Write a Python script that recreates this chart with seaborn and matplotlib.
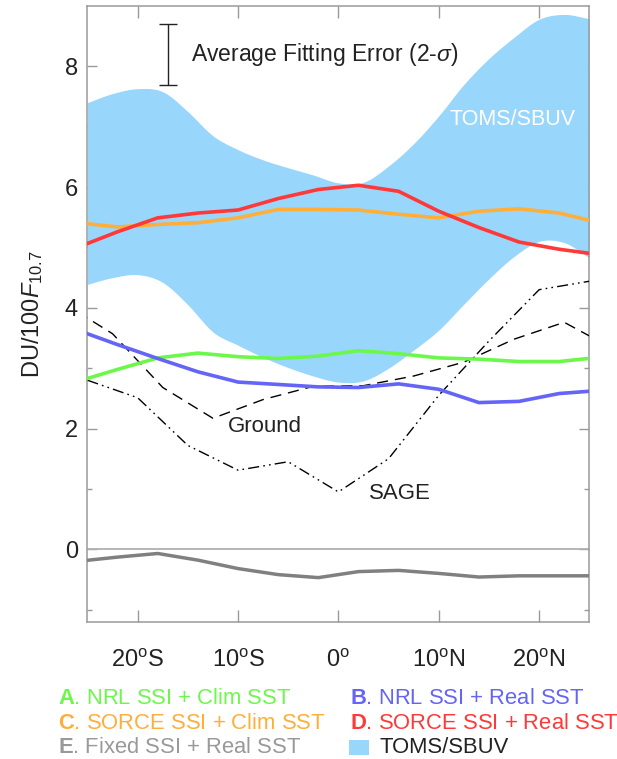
import matplotlib
matplotlib.use("Agg")
import matplotlib.pyplot as plt
import numpy as np
import pandas as pd
import seaborn as sns
from matplotlib.patches import Rectangle

# ---- data -------------------------------------------------------------
# model zonal means on the 4-degree latitude grid
model_lat = [-26, -22, -18, -14, -10, -6, -2, 2, 6, 10, 14, 18, 22, 26]
nrl_clim = [2.78, 2.98, 3.17, 3.25, 3.19, 3.16, 3.20, 3.29, 3.24, 3.17, 3.15, 3.11, 3.11, 3.18]
nrl_real = [3.63, 3.39, 3.16, 2.94, 2.77, 2.73, 2.69, 2.68, 2.74, 2.65, 2.43, 2.45, 2.58, 2.63]
sorce_clim = [5.41, 5.34, 5.38, 5.41, 5.49, 5.63, 5.63, 5.62, 5.55, 5.49, 5.60, 5.64, 5.57, 5.41]
sorce_real = [5.00, 5.26, 5.49, 5.57, 5.62, 5.81, 5.96, 6.03, 5.93, 5.60, 5.33, 5.09, 4.97, 4.88]
fixed_real = [-0.20, -0.13, -0.07, -0.18, -0.32, -0.42, -0.47, -0.37, -0.35, -0.40, -0.46, -0.44, -0.44, -0.44]

# ground-based network, 5-degree bins
ground_lat = [-27.5, -22.5, -17.5, -12.5, -7.5, -2.5, 2.5, 7.5, 12.5, 17.5, 22.5, 27.5]
ground_val = [4.09, 3.57, 2.68, 2.17, 2.48, 2.70, 2.71, 2.87, 3.10, 3.48, 3.76, 3.31]

# SAGE, 5-degree bins
sage_lat = [-25, -20, -15, -10, -5, 0, 5, 10, 15, 20, 25]
sage_val = [2.80, 2.51, 1.72, 1.31, 1.45, 0.95, 1.50, 2.55, 3.45, 4.30, 4.44]

# TOMS/SBUV range
toms_lat = [-25, -22.5, -20, -17.5, -15, -12.5, -10, -7.5, -5, -2.5, 0,
            2.5, 5, 7.5, 10, 12.5, 15, 17.5, 20, 22.5, 25]
toms_hi = [7.40, 7.55, 7.63, 7.58, 7.25, 6.85, 6.62, 6.45, 6.32, 6.20, 6.07,
           6.08, 6.35, 6.72, 7.18, 7.70, 8.13, 8.48, 8.78, 8.86, 8.79]
toms_lo = [4.39, 4.50, 4.55, 4.42, 4.05, 3.60, 3.38, 3.18, 3.01, 2.87, 2.77,
           2.79, 3.00, 3.30, 3.63, 4.06, 4.48, 4.85, 5.10, 5.08, 4.83]

# average 2-sigma fitting error
err_center = 8.2
err_half = 0.51

xtick_pos = [-20, -10, 0, 10, 20]
xtick_labels = [r'20$^{\rm o}$S', r'10$^{\rm o}$S', r'0$^{\rm o}$',
                r'10$^{\rm o}$N', r'20$^{\rm o}$N']

legend_rows = [
    (r'$\mathbf{A}$. NRL SSI + Clim SST', r'$\mathbf{B}$. NRL SSI + Real SST'),
    (r'$\mathbf{C}$. SORCE SSI + Clim SST', r'$\mathbf{D}$. SORCE SSI + Real SST'),
    (r'$\mathbf{E}$. Fixed SSI + Real SST', 'TOMS/SBUV'),
]


def smooth_curve(x, y, n=12):
    """Catmull-Rom curve through the given points, for a smooth outline."""
    x = np.asarray(x, float)
    y = np.asarray(y, float)
    px = np.concatenate([[2 * x[0] - x[1]], x, [2 * x[-1] - x[-2]]])
    py = np.concatenate([[2 * y[0] - y[1]], y, [2 * y[-1] - y[-2]]])
    t = np.linspace(0, 1, n, endpoint=False)
    xs, ys = [], []
    for i in range(1, len(px) - 2):
        for p, out in ((px, xs), (py, ys)):
            p0, p1, p2, p3 = p[i - 1], p[i], p[i + 1], p[i + 2]
            out.append(0.5 * (2 * p1 + (-p0 + p2) * t
                              + (2 * p0 - 5 * p1 + 4 * p2 - p3) * t ** 2
                              + (-p0 + 3 * p1 - 3 * p2 + p3) * t ** 3))
    xs.append([x[-1]])
    ys.append([y[-1]])
    return np.concatenate(xs), np.concatenate(ys)


# ---- style ------------------------------------------------------------
sns.set_style("ticks")
plt.rcParams['font.family'] = ['Liberation Sans', 'DejaVu Sans']
plt.rcParams['mathtext.fontset'] = 'custom'
plt.rcParams['mathtext.rm'] = 'Liberation Sans'
plt.rcParams['mathtext.it'] = 'Liberation Sans:italic'
plt.rcParams['mathtext.bf'] = 'Liberation Sans:bold'

c_green = '#6CF84A'
c_blue = '#6464F6'
c_orange = '#FFAE3A'
c_red = '#FF3838'
c_gray = '#808080'
c_toms = '#99D6FB'
c_axis = '#9A9A9A'
c_text = '#222222'

fig = plt.figure(figsize=(6.17, 7.59), dpi=100)
ax = fig.add_axes([0.1418, 0.1809, 0.8133, 0.8112])

sx, s_hi = smooth_curve(toms_lat, toms_hi)
_, s_lo = smooth_curve(toms_lat, toms_lo)
ax.fill_between(sx, s_lo, s_hi, color=c_toms, lw=0, zorder=1)
ax.axhline(0, color='#B0B0B0', lw=1.3, zorder=1.5)

models = pd.DataFrame({
    'lat': model_lat, 'A': nrl_clim, 'B': nrl_real, 'C': sorce_clim,
    'D': sorce_real, 'E': fixed_real,
})

sns.lineplot(data=models, x='lat', y='E', ax=ax, color=c_gray, lw=2.5,
             estimator=None, sort=False, zorder=3)
sns.lineplot(x=ground_lat, y=ground_val, ax=ax, color='black', lw=1.0,
             linestyle=(0, (8, 5)), estimator=None, sort=False, zorder=3)
sns.lineplot(x=sage_lat, y=sage_val, ax=ax, color='black', lw=1.0,
             linestyle=(0, (8, 3, 1.2, 3, 1.2, 3)), estimator=None, sort=False, zorder=3)
for col, c in [('A', c_green), ('B', c_blue), ('C', c_orange), ('D', c_red)]:
    sns.lineplot(data=models, x='lat', y=col, ax=ax, color=c, lw=2.6,
                 estimator=None, sort=False, zorder=4)

ax.errorbar([-17], [err_center], yerr=[err_half], color='#222222', lw=1.0,
            capsize=6.5, capthick=1.0, zorder=5)
ax.text(-14.7, 8.2, r'Average Fitting Error (2-$\sigma$)', fontsize=16.5,
        color=c_text, va='center', ha='left')
ax.text(11.1, 7.12, 'TOMS/SBUV', fontsize=15.5, color='white', va='center', ha='left')
ax.text(-11.0, 2.04, 'Ground', fontsize=16, color=c_text, va='center', ha='left')
ax.text(3.0, 0.93, 'SAGE', fontsize=16, color=c_text, va='center', ha='left')

ax.set_xlim(-25, 25)
ax.set_ylim(-1.2, 9)
ax.set_xticks(xtick_pos)
ax.set_xticklabels(xtick_labels)
ax.set_yticks([0, 2, 4, 6, 8])
ax.set_yticks([-1, 1, 3, 5, 7], minor=True)
ax.tick_params(axis='x', which='major', direction='in', length=8.8, width=1.0,
               color=c_axis, top=True, bottom=True, labelsize=17, pad=20,
               labelcolor=c_text)
ax.tick_params(axis='y', which='major', direction='in', length=7.2, width=1.0,
               color=c_axis, left=True, right=True, labelsize=17, pad=7,
               labelcolor=c_text)
ax.tick_params(axis='y', which='minor', direction='in', length=3.6, width=1.0,
               color=c_axis, left=True, right=True)
for s in ax.spines.values():
    s.set_color(c_axis)
    s.set_linewidth(1.1)
ax.set_xlabel('')
ax.set_ylabel(r'DU/100$\mathit{F}_{10.7}$', fontsize=17, color=c_text, labelpad=14)

# legend block below the axes
row_y = [0.0791, 0.0474, 0.0158]
col_x = [0.094, 0.567]
left_colors = [c_green, c_orange, '#999999']
right_colors = [c_blue, c_red, c_text]
leg_fs = 15.8
for i, (ltxt, rtxt) in enumerate(legend_rows):
    fig.text(col_x[0], row_y[i], ltxt, color=left_colors[i], fontsize=leg_fs,
             va='center', ha='left')
    if rtxt == 'TOMS/SBUV':
        fig.patches.append(Rectangle((349 / 617, row_y[i] - 7.5 / 759), 20 / 617, 15 / 759,
                                     transform=fig.transFigure, color=c_toms, lw=0))
        fig.text(380 / 617, row_y[i], rtxt, color=right_colors[i], fontsize=leg_fs,
                 va='center', ha='left')
    else:
        fig.text(col_x[1], row_y[i], rtxt, color=right_colors[i], fontsize=leg_fs,
                 va='center', ha='left')

fig.savefig('out.png', dpi=100)
